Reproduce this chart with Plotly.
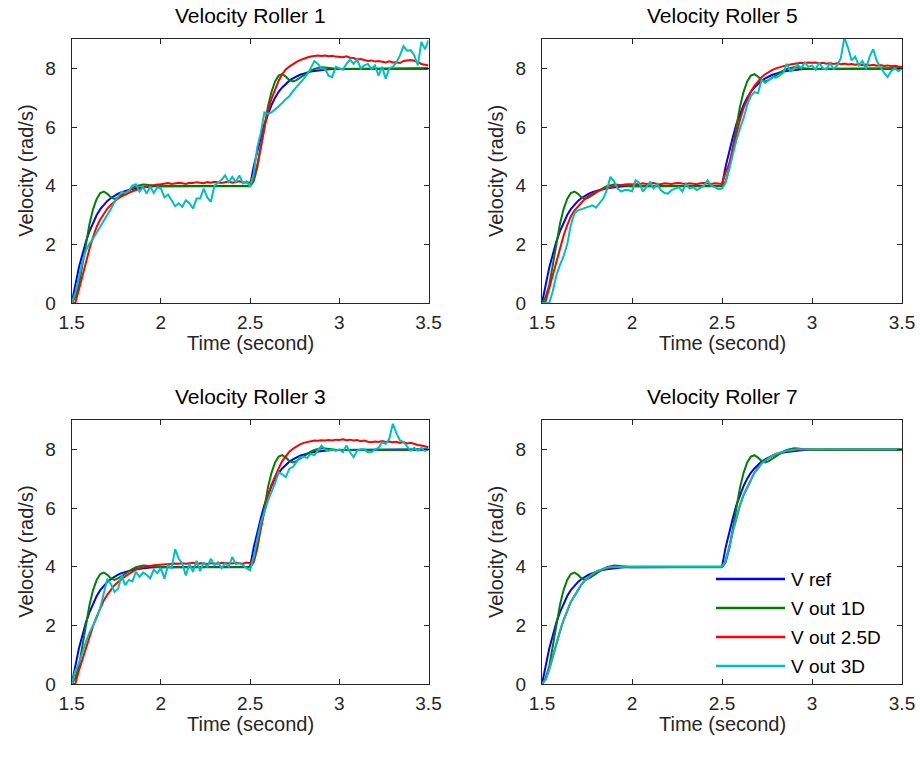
import plotly.graph_objects as go

# ---------------- data ----------------
time_s = [1.50, 1.52, 1.54, 1.56, 1.58, 1.60, 1.62, 1.64, 1.66, 1.68,
          1.70, 1.72, 1.74, 1.76, 1.78, 1.80, 1.82, 1.84, 1.86, 1.88,
          1.90, 1.92, 1.94, 1.96, 1.98, 2.00, 2.02, 2.04, 2.06, 2.08,
          2.10, 2.12, 2.14, 2.16, 2.18, 2.20, 2.22, 2.24, 2.26, 2.28,
          2.30, 2.32, 2.34, 2.36, 2.38, 2.40, 2.42, 2.44, 2.46, 2.48,
          2.50, 2.52, 2.54, 2.56, 2.58, 2.60, 2.62, 2.64, 2.66, 2.68,
          2.70, 2.72, 2.74, 2.76, 2.78, 2.80, 2.82, 2.84, 2.86, 2.88,
          2.90, 2.92, 2.94, 2.96, 2.98, 3.00, 3.02, 3.04, 3.06, 3.08,
          3.10, 3.12, 3.14, 3.16, 3.18, 3.20, 3.22, 3.24, 3.26, 3.28,
          3.30, 3.32, 3.34, 3.36, 3.38, 3.40, 3.42, 3.44, 3.46, 3.48, 3.50]

v_ref = [0, 0.65, 1.2, 1.65, 2.1, 2.45, 2.75, 3.0, 3.2, 3.35,
         3.48, 3.58, 3.66, 3.73, 3.78, 3.82, 3.86, 3.89, 3.91, 3.93,
         3.95, 3.96, 3.97, 3.98, 3.98, 3.99, 4.0, 4.0, 4.0, 4.0,
         4.0, 4.0, 4.0, 4.0, 4.0, 4.0, 4.0, 4.0, 4.0, 4.0,
         4.0, 4.0, 4.0, 4.0, 4.0, 4.0, 4.0, 4.0, 4.0, 4.0,
         4.0, 4.65, 5.2, 5.65, 6.1, 6.45, 6.75, 7.0, 7.2, 7.35,
         7.48, 7.58, 7.66, 7.73, 7.78, 7.82, 7.86, 7.89, 7.91, 7.93,
         7.95, 7.96, 7.97, 7.98, 7.98, 7.99, 8.0, 8.0, 8.0, 8.0,
         8.0, 8.0, 8.0, 8.0, 8.0, 8.0, 8.0, 8.0, 8.0, 8.0,
         8.0, 8.0, 8.0, 8.0, 8.0, 8.0, 8.0, 8.0, 8.0, 8.0, 8.0]

v_out_1d = [0, 0.2, 0.6, 1.3, 2.05, 2.7, 3.2, 3.55, 3.75, 3.8,
            3.72, 3.6, 3.55, 3.6, 3.68, 3.77, 3.85, 3.92, 3.98, 4.02,
            4.04, 4.03, 4.01, 4.0, 3.99, 3.98, 3.98, 3.98, 3.98, 3.98,
            3.98, 3.98, 3.98, 3.98, 3.98, 3.98, 3.98, 3.98, 3.98, 3.98,
            3.98, 3.98, 3.98, 3.98, 3.98, 3.98, 3.98, 3.98, 3.98, 3.98,
            3.98, 4.15, 4.6, 5.3, 6.05, 6.7, 7.2, 7.55, 7.75, 7.8,
            7.72, 7.6, 7.55, 7.6, 7.68, 7.77, 7.85, 7.92, 7.98, 8.02,
            8.04, 8.03, 8.01, 8.0, 7.99, 7.98, 7.98, 7.98, 7.98, 7.98,
            7.98, 7.98, 7.98, 7.98, 7.98, 7.98, 7.98, 7.98, 7.98, 7.98,
            7.98, 7.98, 7.98, 7.98, 7.98, 7.98, 7.98, 7.98, 7.98, 7.98, 7.98]

# Roller 1
r1_out_25d = [0, 0.0, 0.45, 0.95, 1.4, 1.85, 2.25, 2.6, 2.85, 3.05,
              3.22, 3.35, 3.47, 3.56, 3.64, 3.7, 3.76, 3.81, 3.85, 3.9,
              3.93, 3.96, 3.99, 4.02, 4.04, 4.05, 4.07, 4.09, 4.06, 4.08,
              4.1, 4.08, 4.06, 4.1, 4.09, 4.12, 4.09, 4.08, 4.12, 4.1,
              4.13, 4.1, 4.09, 4.12, 4.14, 4.1, 4.12, 4.15, 4.11, 4.12,
              4.1, 4.3, 4.7, 5.3, 6.0, 6.55, 6.96, 7.3, 7.58, 7.8,
              7.96, 8.06, 8.15, 8.22, 8.28, 8.33, 8.37, 8.4, 8.43, 8.44,
              8.42, 8.44, 8.41, 8.43, 8.4, 8.4, 8.38, 8.41, 8.36, 8.35,
              8.3, 8.32, 8.28, 8.25, 8.27, 8.23, 8.25, 8.22, 8.2, 8.24,
              8.2, 8.21, 8.18, 8.25, 8.27, 8.28, 8.26, 8.22, 8.15, 8.12, 8.1]
r1_out_3d = [0, 0.35, 0.85, 1.4, 1.8, 2.03, 2.2, 2.4, 2.6, 2.8,
             2.97, 3.2, 3.45, 3.6, 3.79, 3.75, 3.82, 4.0, 4.05, 3.8,
             3.95, 3.73, 3.97, 3.75, 3.95, 3.9, 3.6, 3.7, 3.5, 3.3,
             3.4, 3.28, 3.5, 3.4, 3.22, 3.56, 3.56, 3.9, 3.6, 3.45,
             4.0, 4.1, 4.2, 4.35, 4.12, 4.3, 4.12, 4.35, 4.08, 4.15,
             3.96, 4.4, 5.3, 5.8, 6.5, 6.45, 6.5, 6.6, 6.7, 6.82,
             6.95, 7.05, 7.22, 7.35, 7.5, 7.64, 7.8, 8.0, 8.25, 8.15,
             8.0, 7.98, 7.75, 7.7, 8.05, 8.0, 7.95, 8.15, 8.3, 8.15,
             8.3, 8.0, 8.1, 8.15, 7.98, 8.1, 7.75, 8.05, 7.65, 8.0,
             8.05, 8.2, 8.44, 8.75, 8.6, 8.62, 8.45, 8.1, 8.9, 8.65, 8.95]

# Roller 5
r5_out_25d = [0, 0.05, 0.5, 0.95, 1.4, 1.85, 2.3, 2.65, 2.95, 3.15,
              3.3, 3.45, 3.56, 3.65, 3.73, 3.79, 3.84, 3.88, 3.92, 3.95,
              3.98, 4.0, 4.03, 4.04, 4.05, 4.05, 4.07, 4.05, 4.08, 4.06,
              4.07, 4.09, 4.06, 4.05, 4.08, 4.07, 4.06, 4.08, 4.09, 4.07,
              4.06, 4.08, 4.07, 4.05, 4.08, 4.09, 4.07, 4.06, 4.08, 4.07,
              4.06, 4.45, 4.75, 5.25, 5.8, 6.25, 6.65, 6.95, 7.2, 7.4,
              7.55, 7.7, 7.8, 7.88, 7.95, 8.0, 8.04, 8.08, 8.11, 8.13,
              8.15, 8.17, 8.19, 8.18, 8.2, 8.19, 8.2, 8.17, 8.19, 8.16,
              8.18, 8.15, 8.17, 8.14, 8.16, 8.13, 8.15, 8.12, 8.14, 8.11,
              8.13, 8.1, 8.12, 8.09, 8.11, 8.08, 8.1, 8.07, 8.09, 8.06, 8.05]
r5_out_3d = [0, 0, 0, 0.4, 0.95, 1.3, 1.6, 2.0, 2.65, 3.05,
             3.16, 3.2, 3.25, 3.28, 3.33, 3.25, 3.4, 3.56, 3.85, 4.3,
             4.15, 3.9, 3.8, 3.85, 3.85, 3.8, 4.18, 4.1, 3.8, 3.95,
             4.12, 3.9, 4.05, 3.85, 3.75, 3.73, 3.85, 3.9, 3.95, 3.8,
             4.07, 3.9, 3.95, 3.85, 3.92, 4.0, 4.18, 4.0, 3.95, 3.88,
             3.9, 4.1, 4.55, 5.1, 5.55, 5.95, 6.3, 6.75, 7.05, 7.19,
             7.15, 7.6, 7.5, 7.6, 7.7, 7.68, 7.75, 7.85, 8.15, 7.9,
             7.98, 8.12, 8.0, 8.2, 8.05, 8.1, 7.95, 8.2, 8.0, 7.96,
             8.18, 7.98, 8.1, 8.35, 9.05, 8.7, 8.27, 8.4, 8.1, 8.25,
             7.98, 8.4, 8.65, 8.25, 8.05, 7.85, 7.7, 7.9, 8.0, 7.9, 8.0]

# Roller 3
r3_out_25d = [0, 0.0, 0.45, 0.85, 1.25, 1.65, 1.98, 2.3, 2.6, 2.85,
              3.05, 3.23, 3.37, 3.48, 3.59, 3.67, 3.75, 3.83, 3.9, 3.95,
              3.98, 4.01, 4.03, 4.05, 4.06, 4.07, 4.08, 4.1, 4.09, 4.11,
              4.1, 4.12, 4.1, 4.11, 4.13, 4.1, 4.12, 4.11, 4.09, 4.12,
              4.11, 4.1, 4.13, 4.12, 4.1, 4.11, 4.13, 4.12, 4.1, 4.14,
              4.12, 4.2, 4.75, 5.35, 5.95, 6.43, 6.8, 7.1, 7.35, 7.6,
              7.78, 7.92, 8.02, 8.1, 8.17, 8.22, 8.25, 8.27, 8.3, 8.29,
              8.31, 8.3, 8.32, 8.3, 8.33, 8.32, 8.34, 8.31, 8.33, 8.3,
              8.32, 8.28, 8.3, 8.26, 8.24, 8.27, 8.25, 8.28, 8.25, 8.27,
              8.24, 8.26, 8.22, 8.25, 8.2, 8.22, 8.18, 8.15, 8.13, 8.1, 8.07]
r3_out_3d = [0, 0.45, 0.7, 1.1, 1.45, 1.75, 2.0, 2.25, 2.6, 3.05,
             3.59, 3.4, 3.14, 3.25, 3.7, 3.37, 3.55, 3.5, 3.82, 3.65,
             3.8, 3.72, 3.6, 3.9, 3.78, 3.95, 3.59, 4.05, 3.95, 4.6,
             4.27, 4.1, 3.7, 4.1, 3.82, 4.2, 3.85, 4.15, 3.98, 4.27,
             4.05, 4.15, 3.95, 4.12, 4.0, 4.33, 4.08, 4.12, 4.05, 3.95,
             3.88, 4.35, 4.95, 5.5, 5.85, 6.25, 6.55, 6.85, 7.22, 7.15,
             7.05, 7.34, 7.4, 7.55, 7.73, 7.75, 7.7, 7.85, 7.8, 7.96,
             8.13, 8.0, 7.95, 8.0, 7.95, 8.0, 7.9, 8.13, 7.9, 7.73,
             7.95, 8.0, 8.0, 7.9, 7.9, 8.0, 8.05, 8.24, 8.18, 8.36,
             8.87, 8.55, 8.3, 8.25, 8.1, 7.95, 8.05, 7.95, 8.05, 7.95, 8.02]

# Roller 7 (2.5D and 3D overlap)
r7_out_25d = [0, 0.15, 0.5, 0.95, 1.38, 1.8, 2.18, 2.5, 2.8, 3.0,
              3.2, 3.4, 3.54, 3.66, 3.75, 3.83, 3.88, 3.92, 3.96, 3.98,
              3.99, 4.0, 4.0, 4.0, 4.0, 4.0, 4.0, 4.0, 4.0, 4.0,
              4.0, 4.0, 4.0, 4.0, 4.0, 4.0, 4.0, 4.0, 4.0, 4.0,
              4.0, 4.0, 4.0, 4.0, 4.0, 4.0, 4.0, 4.0, 4.0, 4.0,
              4.0, 4.2, 4.65, 5.2, 5.7, 6.1, 6.44, 6.72, 6.95, 7.2,
              7.38, 7.52, 7.62, 7.71, 7.78, 7.84, 7.88, 7.92, 7.95, 7.97,
              7.99, 8.0, 8.0, 8.0, 8.0, 8.0, 8.0, 8.0, 8.0, 8.0,
              8.0, 8.0, 8.0, 8.0, 8.0, 8.0, 8.0, 8.0, 8.0, 8.0,
              8.0, 8.0, 8.0, 8.0, 8.0, 8.0, 8.0, 8.0, 8.0, 8.0, 8.0]
r7_out_3d = [0, 0.15, 0.5, 0.95, 1.38, 1.8, 2.18, 2.5, 2.8, 3.0,
             3.2, 3.4, 3.54, 3.66, 3.75, 3.83, 3.88, 3.92, 3.96, 3.98,
             3.99, 4.0, 4.0, 4.0, 4.0, 4.0, 4.0, 4.0, 4.0, 4.0,
             4.0, 4.0, 4.0, 4.0, 4.0, 4.0, 4.0, 4.0, 4.0, 4.0,
             4.0, 4.0, 4.0, 4.0, 4.0, 4.0, 4.0, 4.0, 4.0, 4.0,
             4.0, 4.2, 4.65, 5.2, 5.7, 6.1, 6.44, 6.72, 6.95, 7.2,
             7.38, 7.52, 7.62, 7.71, 7.78, 7.84, 7.88, 7.92, 7.95, 7.97,
             7.99, 8.0, 8.0, 8.0, 8.0, 8.0, 8.0, 8.0, 8.0, 8.0,
             8.0, 8.0, 8.0, 8.0, 8.0, 8.0, 8.0, 8.0, 8.0, 8.0,
             8.0, 8.0, 8.0, 8.0, 8.0, 8.0, 8.0, 8.0, 8.0, 8.0, 8.0]

panel_titles = ["Velocity Roller 1", "Velocity Roller 5", "Velocity Roller 3", "Velocity Roller 7"]
series_names = ["V ref", "V out 1D", "V out 2.5D", "V out 3D"]
x_tick_vals = [1.5, 2, 2.5, 3, 3.5]
x_tick_text = ["1.5", "2", "2.5", "3", "3.5"]
y_tick_vals = [0, 2, 4, 6, 8]
y_tick_text = ["0", "2", "4", "6", "8"]

# ---------------- styling ----------------
colors = ["#0000FF", "#008000", "#FF0000", "#00BFBF"]
FONT = "Liberation Sans, Arial, Helvetica, sans-serif"
TXT = "#262626"
W, H = 920, 763

panels = [
    (r1_out_25d, r1_out_3d),
    (r5_out_25d, r5_out_3d),
    (r3_out_25d, r3_out_3d),
    (r7_out_25d, r7_out_3d),
]
# pixel boxes of the four axes: (left, right, top, bottom)
boxes = [(71.7, 428.5, 39, 303), (542, 902, 39, 303),
         (71.7, 428.5, 420, 684), (542, 902, 420, 684)]

fig = go.Figure()
annotations = []
shapes = []

for k, (red, cyan) in enumerate(panels):
    ax = "" if k == 0 else str(k + 1)
    xa, ya = "x" + ax, "y" + ax
    for name, vals, col in zip(series_names, [v_ref, v_out_1d, red, cyan], colors):
        fig.add_trace(go.Scatter(x=time_s, y=vals, mode="lines", name=name,
                                 line=dict(color=col, width=2), xaxis=xa, yaxis=ya,
                                 showlegend=False, hoverinfo="skip"))
    l, r, t, b = boxes[k]
    common = dict(showline=True, linecolor=TXT, linewidth=1, mirror="ticks",
                  ticks="inside", ticklen=5, tickwidth=1, tickcolor=TXT,
                  showgrid=False, zeroline=False, automargin=False,
                  tickfont=dict(family=FONT, size=19, color=TXT))
    fig.update_layout(**{
        "xaxis" + ax: dict(domain=[l / W, r / W], range=[1.5, 3.5], anchor=ya,
                           tickvals=x_tick_vals, ticktext=x_tick_text,
                           ticklabelstandoff=2, **common),
        "yaxis" + ax: dict(domain=[1 - b / H, 1 - t / H], range=[0, 9], anchor=xa,
                           tickvals=y_tick_vals, ticktext=y_tick_text,
                           ticklabelstandoff=11, **common),
    })
    cx = (l + r) / 2 / W
    annotations.append(dict(text=panel_titles[k], x=cx, y=1 - (t - 24) / H, xref="paper", yref="paper",
                            showarrow=False, xanchor="center", yanchor="middle",
                            font=dict(family=FONT, size=21, color="#000000")))
    annotations.append(dict(text="Time (second)", x=cx, y=1 - (b + 40) / H, xref="paper", yref="paper",
                            showarrow=False, xanchor="center", yanchor="middle",
                            font=dict(family=FONT, size=20, color=TXT)))
    annotations.append(dict(text="Velocity (rad/s)", x=(l - 46) / W, y=1 - (t + b) / 2 / H,
                            xref="paper", yref="paper", textangle=-90,
                            showarrow=False, xanchor="center", yanchor="middle",
                            font=dict(family=FONT, size=20, color=TXT)))

# legend drawn inside the Roller 7 panel (MATLAB style, no box)
leg_rows_px = [579, 608, 637, 666]
for name, col, ypx in zip(series_names, colors, leg_rows_px):
    yp = 1 - ypx / H
    shapes.append(dict(type="line", xref="paper", yref="paper", x0=716 / W, x1=785 / W,
                       y0=yp, y1=yp, line=dict(color=col, width=2.5)))
    annotations.append(dict(text=name, x=789 / W, y=yp, xref="paper", yref="paper",
                            showarrow=False, xanchor="left", yanchor="middle",
                            font=dict(family=FONT, size=19, color="#000000")))

fig.update_layout(width=W, height=H, autosize=False,
                  margin=dict(l=0, r=0, t=0, b=0),
                  paper_bgcolor="white", plot_bgcolor="white",
                  showlegend=False, annotations=annotations, shapes=shapes)

# remove the browser's default 8px page margin so the figure sits at (0, 0)
fig.write_html("out.html", config={"displayModeBar": False},
               post_script="document.body.style.margin='0px';document.body.style.overflow='hidden';")
